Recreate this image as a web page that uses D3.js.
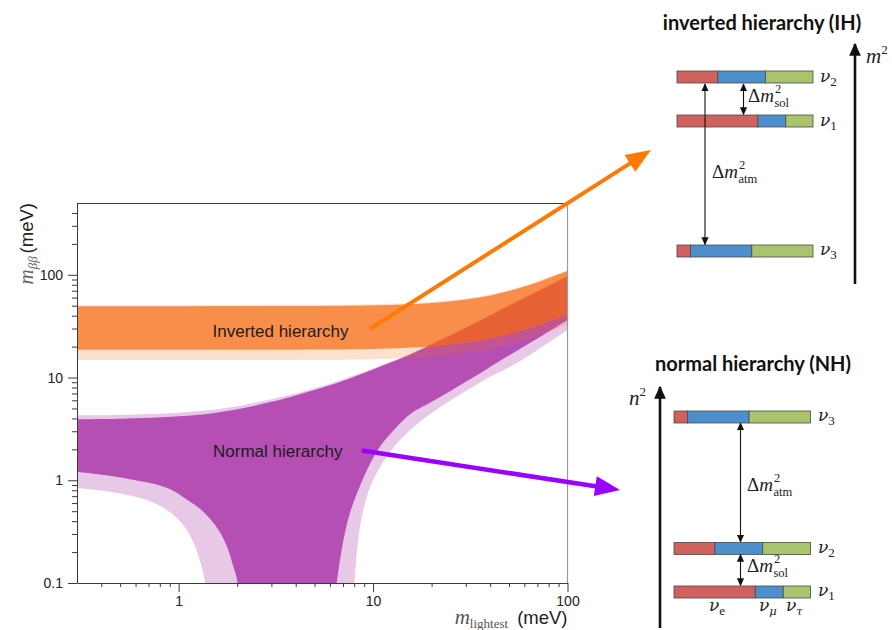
<!DOCTYPE html>
<html>
<head>
<meta charset="utf-8">
<script src="https://cdn.jsdelivr.net/npm/d3@7"></script>
<style>
  body { margin: 0; background: #fff; }
  svg { display: block; }
</style>
</head>
<body>
<svg id="chart" width="892" height="630"></svg>
<script>
// ---- effective Majorana mass bands (all masses in meV) ----
// Inverted hierarchy: best-fit band and 3-sigma envelope
const ihMass       = [0.3, 1, 3, 5, 10, 15, 20, 30, 40, 50, 60, 70, 80, 100];
const ihDarkUpper  = [49.5, 49.5, 49.6, 49.8, 50.5, 51.7, 53.3, 57.5, 63, 69.5, 77, 84.5, 93, 109];
const ihDarkLower  = [18.6, 18.6, 18.6, 18.7, 19, 19.5, 20.1, 21.7, 23.8, 26.2, 29, 31.9, 35, 40];
const ihLightUpper = [50.6, 50.6, 50.7, 50.9, 51.6, 52.8, 54.4, 58.7, 64.3, 71, 78.7, 86.5, 95, 111];
const ihLightLower = [14.8, 14.8, 14.8, 14.9, 15.1, 15.5, 16, 17.3, 19, 20.9, 23.1, 25.4, 27.9, 33];

// Normal hierarchy: upper edges
const nhMass       = [0.3, 0.5, 1, 1.5, 2, 3, 4, 6, 8, 10, 15, 20, 30, 50, 70, 100];
const nhDarkUpper  = [3.93, 3.97, 4.2, 4.5, 4.9, 5.8, 6.7, 8.4, 10.2, 12, 16.3, 21, 30.5, 50, 69, 97];
const nhLightUpper = [4.3, 4.33, 4.55, 4.85, 5.25, 6.15, 7.0, 8.7, 10.5, 12.3, 16.6, 21.3, 30.8, 50.5, 69.5, 98];

// Normal hierarchy: lower edges, cancellation funnel (left and right branches)
const nhDarkLeftMass   = [0.3, 0.45, 0.6, 0.75, 0.9, 1.1, 1.3, 1.5, 1.65, 1.8, 1.9, 1.97, 2.01, 2.03];
const nhDarkLeft       = [1.21, 1.1, 1.0, 0.92, 0.82, 0.65, 0.52, 0.39, 0.3, 0.21, 0.15, 0.12, 0.1, 0.08];
const nhDarkRightMass  = [6.4, 6.5, 6.8, 7.2, 7.6, 8.2, 9, 10, 11, 12, 14, 16, 19, 25, 35, 47, 70, 100];
const nhDarkRight      = [0.08, 0.1, 0.18, 0.32, 0.48, 0.72, 1.1, 1.65, 2.2, 2.7, 3.7, 4.6, 5.5, 7.4, 10.8, 15.3, 24, 36.4];
const nhLightLeftMass  = [0.3, 0.45, 0.6, 0.75, 0.9, 1.0, 1.1, 1.2, 1.28, 1.33, 1.37, 1.39];
const nhLightLeft      = [0.84, 0.77, 0.69, 0.6, 0.49, 0.41, 0.33, 0.24, 0.17, 0.13, 0.1, 0.08];
const nhLightRightMass = [7.9, 8.0, 8.3, 8.7, 9.3, 10, 11, 12.5, 15, 18, 23, 30, 40, 53, 70, 100];
const nhLightRight     = [0.08, 0.1, 0.22, 0.42, 0.7, 1.0, 1.4, 2.0, 2.9, 3.9, 5.4, 7.4, 10.2, 13.3, 18.5, 29];

// axis ticks
const xMajorTicks = [1, 10, 100];
const xMinorTicks = [0.4, 0.5, 0.6, 0.7, 0.8, 0.9, 2, 3, 4, 5, 6, 7, 8, 9, 20, 30, 40, 50, 60, 70, 80, 90];
const yMajorTicks = [0.1, 1, 10, 100];
const yMinorTicks = [0.2, 0.3, 0.4, 0.5, 0.6, 0.7, 0.8, 0.9, 2, 3, 4, 5, 6, 7, 8, 9,
                     20, 30, 40, 50, 60, 70, 80, 90, 200, 300, 400];

// flavour content (nu_e, nu_mu, nu_tau) of each mass eigenstate
const flavours = ["e", "μ", "τ"];
const flavourColors = ["#cf625f", "#4d8fcd", "#a9c46d"];
const nu1Mix = [0.595, 0.205, 0.20];
const nu2Mix = [0.30, 0.35, 0.35];
const nu3Mix = [0.10, 0.45, 0.45];

// ---------------------------------------------------------------
const svg = d3.select("#chart");
const plot = { left: 77, right: 567.5, top: 203, bottom: 583 };

const x = d3.scaleLog().domain([0.3, 100]).range([plot.left, plot.right]);
const y = d3.scaleLog().domain([0.1, 500]).range([plot.bottom, plot.top]);

svg.append("clipPath").attr("id", "plotClip")
  .append("rect")
  .attr("x", plot.left).attr("y", plot.top)
  .attr("width", plot.right - plot.left).attr("height", plot.bottom - plot.top);

const bands = svg.append("g").attr("clip-path", "url(#plotClip)");

const pts = (ms, vs) => ms.map((m, i) => [x(m), y(vs[i])]);
const smooth = d3.line().curve(d3.curveCatmullRom.alpha(0.5));
function region(edges) {
  return edges.map((e, i) => {
    const s = smooth(e);
    return i ? "L" + s.slice(1) : s;
  }).join("") + "Z";
}
const rev = a => a.slice().reverse();

// NH 3-sigma envelope, then best-fit region on top
bands.append("path")
  .attr("d", region([
    pts(nhMass, nhLightUpper),
    rev(pts(nhLightRightMass, nhLightRight)),
    rev(pts(nhLightLeftMass, nhLightLeft))
  ]))
  .attr("fill", "#e8c8e7");

bands.append("path")
  .attr("d", region([
    pts(nhMass, nhDarkUpper),
    rev(pts(nhDarkRightMass, nhDarkRight)),
    rev(pts(nhDarkLeftMass, nhDarkLeft))
  ]))
  .attr("fill", "#b64fb3");

// IH band: translucent, so the overlap with NH shows through
const ihColor = "#f7680e";
const ihArea = (lo, hi) => d3.area()
  .curve(d3.curveMonotoneX)
  .x((m) => x(m))
  .y0((m, i) => y(lo[i]))
  .y1((m, i) => y(hi[i]))(ihMass);

bands.append("path").attr("d", ihArea(ihLightLower, ihDarkLower))
  .attr("fill", ihColor).attr("fill-opacity", 0.2);
bands.append("path").attr("d", ihArea(ihDarkUpper, ihLightUpper))
  .attr("fill", ihColor).attr("fill-opacity", 0.2);
bands.append("path").attr("d", ihArea(ihDarkLower, ihDarkUpper))
  .attr("fill", ihColor).attr("fill-opacity", 0.75);

// band labels
const sans = "'Liberation Sans', Arial, Helvetica, sans-serif";
const serif = "'Liberation Serif', 'Times New Roman', serif";
const greek = "'DejaVu Serif', serif";

svg.append("text").attr("x", 212.5).attr("y", 336.5)
  .attr("font-family", sans).attr("font-size", 17).attr("fill", "#1c1c1c")
  .text("Inverted hierarchy");
svg.append("text").attr("x", 213).attr("y", 456.5)
  .attr("font-family", sans).attr("font-size", 17).attr("fill", "#1c1c1c")
  .text("Normal hierarchy");

// ---- axes ----
function styleAxis(g) {
  g.selectAll("path, line").attr("stroke", "#3a3a3a").attr("stroke-width", 1);
  g.selectAll("text").attr("font-family", sans).attr("font-size", 14).attr("fill", "#222");
}
const fmt = d => String(d);

svg.append("g").attr("transform", `translate(0,${plot.bottom})`)
  .call(d3.axisBottom(x).tickValues(xMinorTicks).tickSize(4).tickSizeOuter(0).tickFormat(""))
  .call(g => g.select(".domain").remove())
  .call(styleAxis);
svg.append("g").attr("transform", `translate(0,${plot.bottom})`)
  .call(d3.axisBottom(x).tickValues(xMajorTicks).tickSize(9).tickSizeOuter(0).tickFormat(fmt).tickPadding(4))
  .call(styleAxis);

svg.append("g").attr("transform", `translate(${plot.left},0)`)
  .call(d3.axisLeft(y).tickValues(yMinorTicks).tickSize(5).tickSizeOuter(0).tickFormat(""))
  .call(g => g.select(".domain").remove())
  .call(styleAxis);
svg.append("g").attr("transform", `translate(${plot.left},0)`)
  .call(d3.axisLeft(y).tickValues(yMajorTicks).tickSize(9).tickSizeOuter(0).tickFormat(fmt).tickPadding(5))
  .call(styleAxis);

// frame
svg.append("line").attr("x1", plot.left).attr("x2", plot.right)
  .attr("y1", plot.top + 0.5).attr("y2", plot.top + 0.5)
  .attr("stroke", "#3a3a3a").attr("stroke-width", 1);
svg.append("line").attr("x1", plot.right).attr("x2", plot.right)
  .attr("y1", plot.top).attr("y2", plot.bottom)
  .attr("stroke", "#9a9a9a").attr("stroke-width", 1.2);

// axis titles
const yTitle = svg.append("text")
  .attr("transform", `translate(33,${plot.top}) rotate(-90)`)
  .attr("text-anchor", "end");
yTitle.append("tspan").attr("font-family", serif).attr("font-style", "italic")
  .attr("font-size", 21).attr("fill", "#666").text("m");
yTitle.append("tspan").attr("font-family", serif).attr("font-style", "italic")
  .attr("font-size", 13).attr("fill", "#666").attr("dy", 4).text("ββ");
yTitle.append("tspan").attr("font-family", sans).attr("font-size", 18.5)
  .attr("fill", "#222").attr("dy", -4).attr("dx", 3).text("(meV)");

const xTitle = svg.append("text")
  .attr("x", plot.right).attr("y", 624).attr("text-anchor", "end");
xTitle.append("tspan").attr("font-family", serif).attr("font-style", "italic")
  .attr("font-size", 21).attr("fill", "#555").text("m");
xTitle.append("tspan").attr("font-family", serif)
  .attr("font-size", 13).attr("fill", "#555").attr("dy", 4).text("lightest");
xTitle.append("tspan").attr("font-family", sans).attr("font-size", 18.5)
  .attr("fill", "#222").attr("dy", -4).attr("dx", 9).text("(meV)");

// ---- level diagrams ----
const defs = svg.append("defs");
function marker(id, size, color) {
  defs.append("marker").attr("id", id)
    .attr("viewBox", "0 0 10 10").attr("refX", 9).attr("refY", 5)
    .attr("markerWidth", size).attr("markerHeight", size)
    .attr("markerUnits", "userSpaceOnUse").attr("orient", "auto-start-reverse")
    .append("path").attr("d", "M0,0.5 L10,5 L0,9.5 Z").attr("fill", color);
}
marker("tip", 8, "#111");
marker("bigtip", 13, "#111");

function levelBar(x0, x1, yTop, mix) {
  const s = d3.scaleLinear().domain([0, 1]).range([x0, x1]);
  const cum = d3.cumsum(mix);
  const g = svg.append("g");
  mix.forEach((v, i) => {
    g.append("rect")
      .attr("x", s(cum[i] - v)).attr("y", yTop)
      .attr("width", s(cum[i]) - s(cum[i] - v)).attr("height", 12)
      .attr("fill", flavourColors[i]).attr("stroke", "#4a4a4a").attr("stroke-width", 0.8);
  });
}

function nuLabel(xp, yp, sub) {
  const t = svg.append("text").attr("x", xp).attr("y", yp).attr("fill", "#222");
  t.append("tspan").attr("font-family", greek).attr("font-style", "italic")
    .attr("font-size", 17).text("ν");
  const upright = /\d|e/.test(sub);
  t.append("tspan").attr("font-family", upright ? serif : greek)
    .attr("font-style", upright ? "normal" : "italic")
    .attr("font-size", upright ? 13 : 11.5).attr("dy", 4).text(sub);
}

function deltaLabel(xp, yp, sub) {
  const t = svg.append("text").attr("x", xp).attr("y", yp).attr("fill", "#222")
    .attr("font-family", serif).attr("font-size", 19);
  t.append("tspan").text("Δ");
  t.append("tspan").attr("font-style", "italic").text("m");
  const w = t.node().getComputedTextLength();
  svg.append("text").attr("x", xp + w + 1).attr("y", yp - 9)
    .attr("font-family", serif).attr("font-size", 12.5).attr("fill", "#222").text("2");
  svg.append("text").attr("x", xp + w + 0.5).attr("y", yp + 5)
    .attr("font-family", serif).attr("font-size", 12.5).attr("fill", "#222").text(sub);
}

function vArrow(xp, y1, y2, both, id, width) {
  svg.append("line").attr("x1", xp).attr("x2", xp).attr("y1", y1).attr("y2", y2)
    .attr("stroke", "#111").attr("stroke-width", width || 1.1)
    .attr("marker-end", `url(#${id || "tip"})`)
    .attr("marker-start", both ? `url(#${id || "tip"})` : null);
}

// inverted hierarchy
svg.append("text").attr("x", 762).attr("y", 30).attr("text-anchor", "middle")
  .attr("font-family", "Lato, 'Open Sans', sans-serif").attr("font-weight", 700)
  .attr("font-size", 20).attr("fill", "#111").text("inverted hierarchy (IH)");
levelBar(677, 813, 71, nu2Mix);
levelBar(677, 813, 115, nu1Mix);
levelBar(677, 813, 245, nu3Mix);
nuLabel(820, 82, "2");
nuLabel(820, 126, "1");
nuLabel(820, 255, "3");
vArrow(743.5, 84, 114.5, true);
vArrow(705, 84, 244.5, true);
deltaLabel(748, 102, "sol");
deltaLabel(712, 178, "atm");
vArrow(855, 284, 44, false, "bigtip", 2.6);
const m2 = svg.append("text").attr("x", 866).attr("y", 63).attr("fill", "#222")
  .attr("font-family", serif);
m2.append("tspan").attr("font-style", "italic").attr("font-size", 21).text("m");
m2.append("tspan").attr("font-size", 13).attr("dy", -9).text("2");

// normal hierarchy
svg.append("text").attr("x", 753).attr("y", 371).attr("text-anchor", "middle")
  .attr("font-family", "Lato, 'Open Sans', sans-serif").attr("font-weight", 700)
  .attr("font-size", 20).attr("fill", "#111").text("normal hierarchy (NH)");
levelBar(674, 810.5, 411, nu3Mix);
levelBar(674, 810.5, 542.5, nu2Mix);
levelBar(674, 810.5, 586, nu1Mix);
nuLabel(818, 421, "3");
nuLabel(818, 553, "2");
nuLabel(818, 596, "1");
vArrow(740.5, 423, 542, true);
vArrow(740.5, 554.5, 585.5, true);
deltaLabel(747, 491, "atm");
deltaLabel(747, 572, "sol");
vArrow(660, 628, 387, false, "bigtip", 2.6);
const n2 = svg.append("text").attr("x", 629).attr("y", 405).attr("fill", "#222")
  .attr("font-family", serif);
n2.append("tspan").attr("font-style", "italic").attr("font-size", 21).text("n");
n2.append("tspan").attr("font-size", 13).attr("dy", -9).text("2");

// flavour labels under the lowest NH level
[[709, 0], [759, 1], [786, 2]].forEach(([xp, i]) => nuLabel(xp, 611, flavours[i]));

// ---- pointer arrows from the bands to the diagrams ----
function pointer(x0, y0, x1, y1, color, width, headLen, headHalf) {
  const dx = x1 - x0, dy = y1 - y0, len = Math.hypot(dx, dy);
  const ux = dx / len, uy = dy / len;
  const bx = x1 - ux * headLen, by = y1 - uy * headLen;
  svg.append("line").attr("x1", x0).attr("y1", y0)
    .attr("x2", bx + ux * 2).attr("y2", by + uy * 2)
    .attr("stroke", color).attr("stroke-width", width);
  svg.append("path")
    .attr("d", `M${x1},${y1}L${bx - uy * headHalf},${by + ux * headHalf}L${bx + uy * headHalf},${by - ux * headHalf}Z`)
    .attr("fill", color);
}
pointer(370, 329, 651, 150, "#ff7a00", 4, 25, 10);
pointer(362, 450.5, 620, 490, "#9a00ff", 4.5, 25, 10);
</script>
</body>
</html>
